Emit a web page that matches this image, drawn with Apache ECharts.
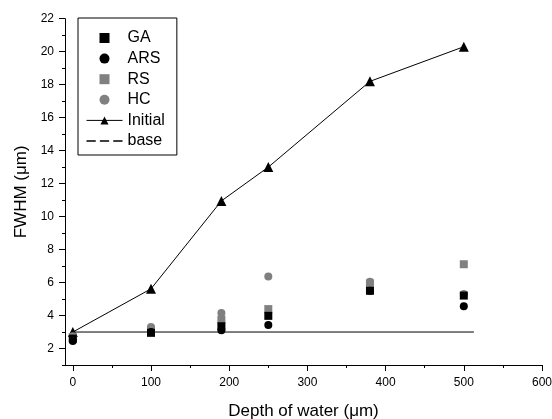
<!DOCTYPE html>
<html>
<head>
<meta charset="utf-8">
<script src="https://cdn.jsdelivr.net/npm/echarts@6/dist/echarts.min.js"></script>
<style>
  html, body { margin: 0; padding: 0; background: #fff; }
  #chart { width: 552px; height: 419px; }
</style>
</head>
<body>
<div id="chart"></div>
<script>
// depth of water (um)
const depths = [0, 100, 190, 250, 380, 500];
// FWHM (um) per method
const gaValues = [2.6, 2.95, 3.35, 3.98, 5.5, 5.21];
const arsValues = [2.45, 3.0, 3.1, 3.42, 5.5, 4.57];
const rsValues = [2.7, 3.15, 3.75, 4.39, 5.95, 7.11];
const hcValues = [2.75, 3.3, 4.15, 6.36, 6.05, 5.3];
const initialValues = [3.0, 5.62, 10.95, 13.0, 18.2, 20.3];
const baseDepths = [0, 513];
const baseValues = [3, 3];

const xMajor = [0, 100, 200, 300, 400, 500, 600];
const xMinor = [50, 150, 250, 350, 450, 550];
const yMajor = [2, 4, 6, 8, 10, 12, 14, 16, 18, 20, 22];
const yMinor = [1, 3, 5, 7, 9, 11, 13, 15, 17, 19, 21];

const zip = (xs, ys) => xs.map((x, i) => [x, ys[i]]);
const font = 'Liberation Sans';

let myChart = echarts.init(document.getElementById('chart'));

const xBase = {
  type: 'value', min: -10, max: 600, position: 'bottom',
  splitLine: { show: false }
};
const yBase = {
  type: 'value', min: 1, max: 22, position: 'left',
  splitLine: { show: false }
};

myChart.setOption({
  animation: false,
  grid: { left: 65, right: 10, top: 18.7, bottom: 54, outerBoundsMode: 'none', containLabel: false },
  legend: {
    orient: 'vertical',
    left: 78,
    top: 18,
    padding: [12, 12, 6, 8],
    itemWidth: 36,
    itemHeight: 10,
    itemGap: 4.6,
    itemTextGap: 7,
    borderColor: '#000',
    borderWidth: 1,
    borderRadius: 0,
    textStyle: { fontFamily: font, fontSize: 16, color: '#000' },
    data: [
      { name: 'GA', icon: 'path://M0,0H7V7H0Z' },
      { name: 'ARS', icon: 'circle' },
      { name: 'RS', icon: 'path://M0,0H7V7H0Z' },
      { name: 'HC', icon: 'circle' },
      { name: 'Initial', lineStyle: { width: 1 } },
      { name: 'base', icon: 'path://M0,0H9V1.6H0Z M13,0H22V1.6H13Z M26,0H35V1.6H26Z' }
    ]
  },
  xAxis: [
    Object.assign({}, xBase, {
      name: 'Depth of water (\u03bcm)',
      nameLocation: 'middle',
      nameGap: 38,
      nameTextStyle: { fontFamily: font, fontSize: 17, color: '#000' },
      axisLine: { show: true, onZero: false, lineStyle: { color: '#000', width: 1 } },
      axisTick: { show: true, customValues: xMajor, length: 6, lineStyle: { color: '#000' } },
      axisLabel: { customValues: xMajor, margin: 12, fontFamily: font, fontSize: 12, color: '#000' }
    }),
    Object.assign({}, xBase, {
      axisLine: { show: false, onZero: false },
      axisTick: { show: true, customValues: xMinor, length: 3, lineStyle: { color: '#000' } },
      axisLabel: { show: false }
    })
  ],
  yAxis: [
    Object.assign({}, yBase, {
      name: 'FWHM (\u03bcm)',
      nameLocation: 'middle',
      nameGap: 34,
      nameTextStyle: { fontFamily: font, fontSize: 17, color: '#000' },
      axisLine: { show: true, onZero: false, lineStyle: { color: '#000', width: 1 } },
      axisTick: { show: true, customValues: yMajor, length: 6, lineStyle: { color: '#000' } },
      axisLabel: { customValues: yMajor, margin: 11, fontFamily: font, fontSize: 12, color: '#000' }
    }),
    Object.assign({}, yBase, {
      axisLine: { show: false, onZero: false },
      axisTick: { show: true, customValues: yMinor, length: 3, lineStyle: { color: '#000' } },
      axisLabel: { show: false }
    })
  ],
  series: [
    {
      name: 'base', type: 'line', data: zip(baseDepths, baseValues),
      symbol: 'none', lineStyle: { color: '#000', width: 1 }, itemStyle: { color: '#000' },
      z: 1
    },
    {
      name: 'Initial', type: 'line', data: zip(depths, initialValues),
      symbol: 'triangle', symbolSize: 10, showAllSymbol: true,
      lineStyle: { color: '#000', width: 1 }, itemStyle: { color: '#000' },
      z: 2
    },
    {
      name: 'HC', type: 'scatter', data: zip(depths, hcValues),
      symbol: 'circle', symbolSize: 8, itemStyle: { color: '#808080', opacity: 1 }, z: 3
    },
    {
      name: 'RS', type: 'scatter', data: zip(depths, rsValues),
      symbol: 'rect', symbolSize: 8, itemStyle: { color: '#808080', opacity: 1 }, z: 4
    },
    {
      name: 'GA', type: 'scatter', data: zip(depths, gaValues),
      symbol: 'rect', symbolSize: 8, itemStyle: { color: '#000', opacity: 1 }, z: 5
    },
    {
      name: 'ARS', type: 'scatter', data: zip(depths, arsValues),
      symbol: 'circle', symbolSize: 8, itemStyle: { color: '#000', opacity: 1 }, z: 6
    }
  ]
});
window.onresize = myChart.resize;
</script>
</body>
</html>
